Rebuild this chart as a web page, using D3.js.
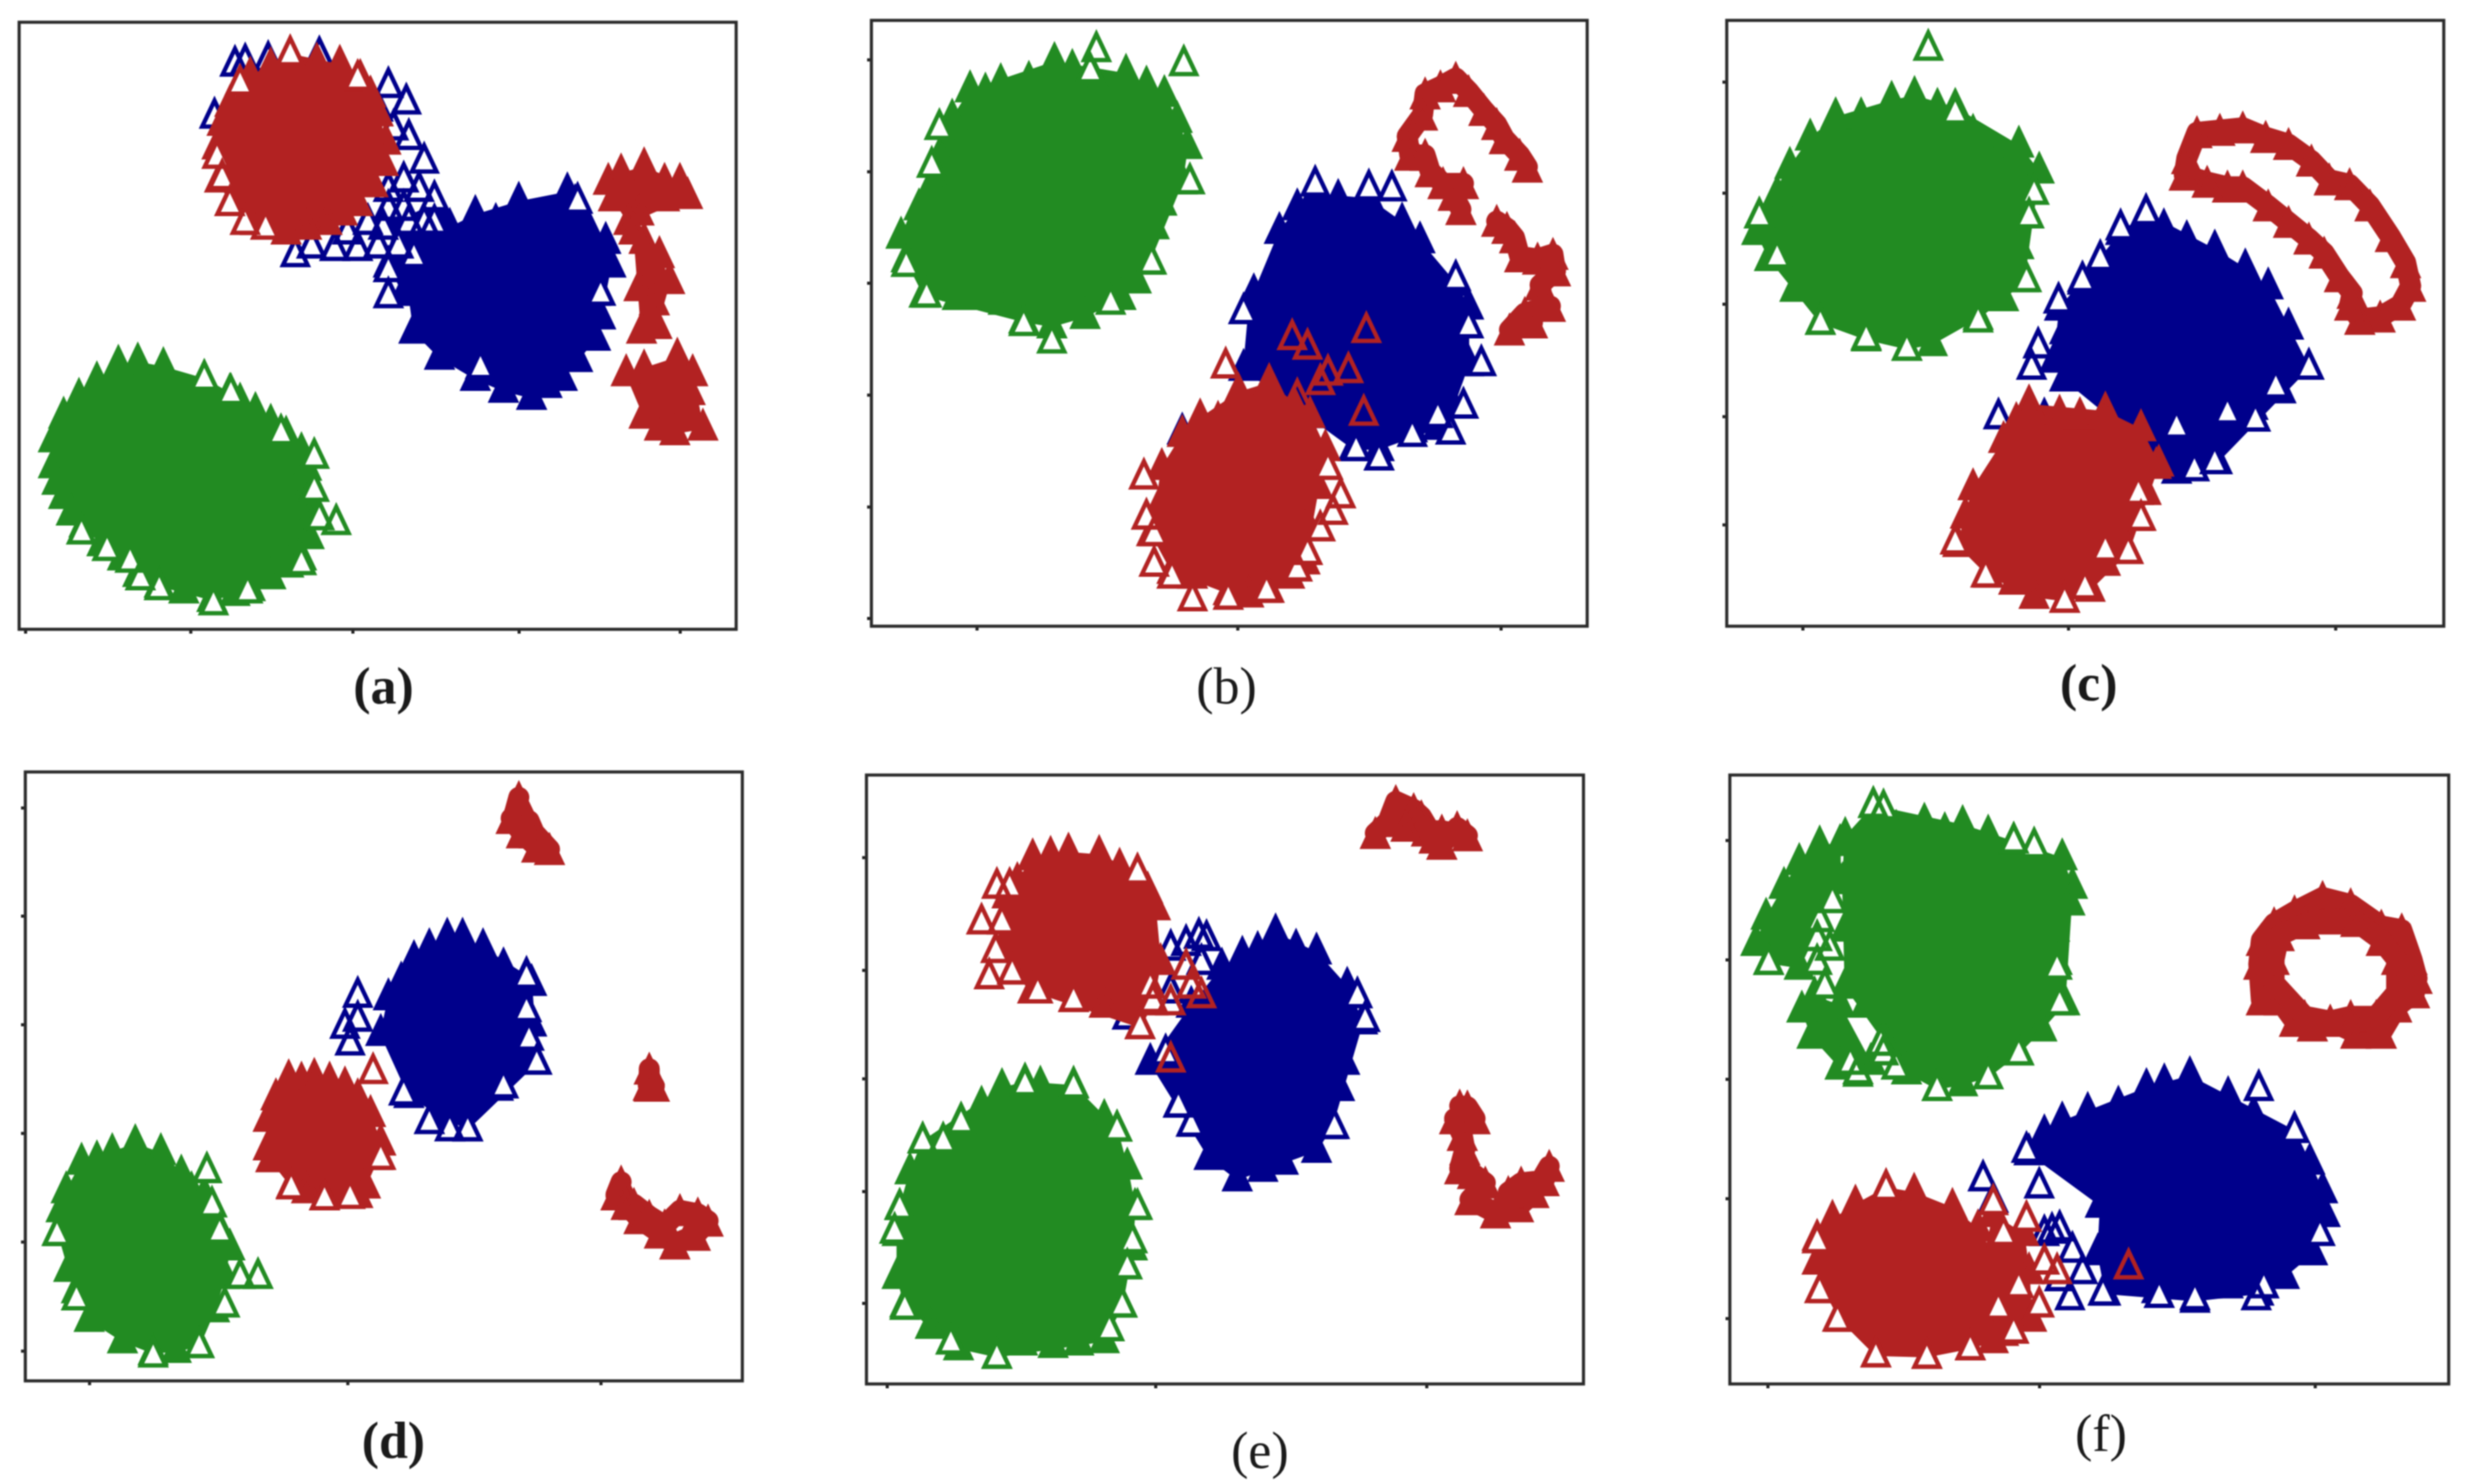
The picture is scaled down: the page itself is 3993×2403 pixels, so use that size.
<!DOCTYPE html>
<html>
<head>
<meta charset="utf-8">
<script src="https://cdn.jsdelivr.net/npm/d3@7"></script>
<style>
  html, body { margin: 0; background: #fff; }
  #chart svg { display: block; filter: blur(1.3px); }
  .lbl { font-family: "Liberation Serif", serif; font-size: 84px; text-anchor: middle; fill: #1a1a1a; }
</style>
</head>
<body>
<div id="chart"></div>
<script>
// values, in each panel's own axis units
// "Body" = dense part of a cluster, "Loose" = hollow triangles on the rim,
// "Strand" = tightly packed chains, "Over" = hollow red triangles sitting on the blue cluster

// panel (a)
const aTicksX = [50, 373, 690, 1015, 1330];
const aTicksY = [];
const aGreenBody = [[105,985],[112,1020],[125,1050],[140,1085],[165,1110],[200,1150],[240,1180],[270,1215],[312,1238],[360,1250],[415,1268],[460,1255],[490,1245],[530,1220],[565,1195],[590,1180],[605,1135],[610,1090],[600,1040],[600,990],[590,955],[560,920],[530,895],[500,870],[470,850],[450,830],[400,800],[365,835],[320,775],[270,765],[232,770],[190,805],[155,840],[125,880],[105,930]];
const aGreenLoose = [[615,965],[658,1105],[160,1125],[210,1160],[275,1222],[312,1243],[418,1275],[485,1250],[590,1190],[625,1095],[400,800],[452,830],[550,915],[615,1035],[255,1185]];
const aBlueBody = [[930,453],[970,470],[1015,425],[1060,470],[1110,405],[1125,430],[1150,480],[1185,510],[1195,560],[1165,620],[1175,670],[1165,715],[1130,760],[1100,800],[1070,815],[1040,840],[985,825],[930,800],[860,755],[810,700],[800,620],[830,560],[850,520],[880,480]];
const aBlueArm = [[770,470],[850,430],[870,470],[840,600],[790,620],[760,560]];
const aBlueLoose = [[1130,425],[1175,620],[940,775],[760,625],[760,570],[760,180],[795,215],[800,290],[830,340],[790,380],[850,420],[750,480],[700,525],[655,525],[578,538],[610,520],[760,440],[800,470],[810,540],[460,135],[480,130],[525,125],[625,115],[420,245],[740,230],[770,270],[720,470],[680,490],[760,400],[820,400],[830,470],[780,520],[740,520],[790,440],[850,470]];
const aRedBody = [[568,113],[620,130],[665,135],[705,165],[725,200],[740,240],[755,300],[750,345],[730,390],[700,430],[670,450],[640,470],[600,480],[560,490],[500,470],[450,430],[430,380],[425,310],[435,260],[450,220],[490,160],[530,140]];
const aRedLoose = [[568,113],[470,175],[425,330],[435,375],[480,470],[520,480],[450,430],[700,165]];
const aRedTop = [[1190,385],[1215,365],[1260,352],[1300,385],[1330,385],[1345,415],[1300,420],[1250,450],[1200,420],[1230,470]];
const aRedMid = [[1260,510],[1290,540],[1310,595],[1250,610],[1280,640],[1255,700],[1285,690],[1240,490]];
const aRedLow = [[1225,790],[1260,780],[1325,755],[1355,790],[1350,830],[1375,905],[1320,915],[1260,880],[1290,905]];

// panel (b)
const bTicksX = [278, 788, 1303];
const bTicksY = [125, 362, 598, 835, 1072, 1308];
const bGreenBody = [[265,190],[295,195],[325,175],[380,170],[430,130],[465,145],[510,170],[570,155],[610,180],[645,200],[670,255],[690,310],[680,385],[640,430],[625,480],[615,555],[590,595],[560,630],[490,670],[425,690],[370,680],[330,640],[280,630],[240,630],[175,625],[140,550],[130,500],[165,440],[195,380],[210,320],[230,250]];
const bGreenLoose = [[512,105],[683,135],[205,270],[425,722],[140,560],[180,625],[370,685],[540,640],[620,555],[190,350],[500,150],[695,385]];
const bBlueBody = [[985,420],[1045,420],[1110,470],[1145,510],[1215,600],[1240,650],[1240,770],[1210,860],[1180,905],[1130,910],[1065,950],[1015,950],[960,880],[800,780],[810,660],[820,620],[870,490],[905,440],[940,410]];
const bBlueLoose = [[940,390],[1045,398],[1265,770],[1205,915],[1230,860],[1065,970],[1130,920],[1180,880],[800,660],[1215,590],[1020,950],[1240,690],[1090,400],[680,915]];
const bRedBody = [[715,885],[750,890],[790,830],[850,810],[900,860],[930,880],[960,950],[945,1030],[920,1100],[920,1190],[890,1220],[850,1250],[810,1260],[770,1255],[700,1220],[660,1210],[620,1130],[640,1060],[640,990],[680,920]];
const bRedLoose = [[605,1010],[610,1095],[625,1130],[625,1195],[660,1220],[700,1268],[770,1265],[845,1250],[905,1205],[925,1170],[950,1120],[975,1085],[990,1050],[965,990],[765,775]];
const bRedOver = [[895,715],[925,735],[965,790],[1005,785],[1040,700],[1035,875],[905,840],[950,810]];
const bRedStrandA = [[1355,360],[1340,335],[1310,300],[1295,270],[1270,240],[1240,200],[1215,172],[1185,190],[1155,205],[1150,250],[1120,295],[1125,335],[1155,335],[1165,370],[1190,395],[1230,395],[1210,420],[1225,450]];
const bRedStrandB = [[1295,475],[1315,490],[1330,510],[1340,550],[1375,555],[1405,545],[1410,580],[1380,610],[1385,650],[1400,655],[1350,670],[1320,705],[1365,690]];

// panel (c)
const cTicksX = [265, 787, 1312];
const cTicksY = [170, 405, 640, 878, 1107];
const cGreenBody = [[330,245],[380,245],[440,210],[485,200],[530,225],[565,225],[600,280],[640,330],[690,305],[730,360],[700,440],[690,520],[700,590],[660,630],[610,670],[520,725],[470,735],[390,715],[300,680],[250,610],[200,545],[175,490],[180,455],[215,410],[240,350],[280,290]];
const cGreenLoose = [[512,100],[180,455],[710,455],[705,590],[610,675],[470,735],[390,712],[300,680],[565,235],[215,540],[720,405]];
const cBlueBody = [[940,448],[975,480],[1020,505],[1075,525],[1135,565],[1180,605],[1220,690],[1260,775],[1205,825],[1150,860],[1080,975],[1000,995],[920,900],[780,800],[760,760],[780,700],[770,650],[815,595],[850,550],[890,490]];
const cBlueLoose = [[940,448],[890,480],[850,545],[815,590],[768,635],[728,730],[715,775],[650,880],[1155,885],[1260,775],[1195,815],[1075,975],[1035,990],[1000,900],[710,860],[740,880],[820,910],[1100,870]];
const cRedBody = [[710,853],[770,875],[810,880],[860,868],[930,905],[965,980],[940,1040],[925,1095],[905,1165],[860,1190],[830,1245],[780,1268],[720,1260],[680,1230],[630,1215],[570,1150],[585,1090],[600,1030],[660,930],[685,890]];
const cRedLoose = [[930,1095],[905,1165],[860,1160],[925,1040],[625,1215],[565,1145],[780,1268],[820,1240]];
const cRedOver = [[710,853],[690,920],[960,985],[860,868],[770,875],[810,880]];
const cRedStrand = [[1020,340],[1040,285],[1085,280],[1130,275],[1175,295],[1220,310],[1265,345],[1300,385],[1340,395],[1380,440],[1420,505],[1450,560],[1460,610],[1440,650],[1400,675],[1360,680],[1340,650],[1345,625],[1320,590],[1290,540],[1260,510],[1220,475],[1180,440],[1130,400],[1100,400],[1060,390],[1015,375],[1020,340]];

// panel (d)
const dTicksX = [175, 680, 1175];
const dTicksY = [145, 372, 600, 828, 1056, 1285];
const dGreenBody = [[160,890],[190,885],[220,870],[265,851],[315,870],[355,915],[375,950],[400,960],[425,1020],[450,1070],[440,1130],[420,1200],[390,1275],[345,1285],[300,1290],[240,1265],[175,1220],[150,1160],[135,1115],[115,1040],[120,990],[130,950]];
const dGreenLoose = [[405,908],[505,1130],[470,1130],[440,1190],[150,1175],[390,1275],[300,1295],[112,1040],[415,980],[430,1035]];
const dBlueBody = [[875,418],[905,418],[945,440],[985,480],[1030,498],[1040,515],[1040,600],[1050,680],[975,735],[915,820],[860,790],[800,750],[745,620],[760,545],[785,510],[810,465],[840,440]];
const dBlueLoose = [[700,540],[675,605],[685,640],[1050,680],[1035,630],[840,805],[880,820],[915,820],[790,745],[1030,500],[1030,570],[700,590],[985,730]];
const dRedBody = [[565,715],[590,720],[615,712],[645,720],[675,730],[700,755],[725,790],[745,850],[740,880],[715,940],[700,960],[665,960],[635,965],[600,950],[570,940],[530,885],[525,860],[525,800],[540,755]];
const dRedLoose = [[635,965],[685,962],[570,942],[745,880]];
const dRedOver = [[730,700]];
const dRedStrandA = [[1015,131],[1005,170],[1035,180],[1045,205],[1075,240],[1050,235],[1020,205],[1000,175]];
const dRedStrandB = [[1270,701],[1270,737],[1268,735],[1280,737]];
const dRedStrandC = [[1215,938],[1205,965],[1225,985],[1250,1015],[1290,1045],[1320,1068],[1360,1050],[1385,1020],[1365,1005],[1330,998],[1300,1030],[1270,1010],[1240,985]];

// panel (e)
const eTicksX = [105, 630, 1160];
const eTicksY = [248, 485, 713, 950, 1185];
const eGreenBody = [[330,733],[375,721],[405,728],[470,728],[530,798],[555,820],[575,900],[590,985],[585,1070],[565,1190],[530,1265],[480,1270],[430,1275],[370,1270],[320,1298],[245,1280],[190,1235],[140,1190],[125,1130],[125,1040],[130,985],[150,910],[175,845],[250,803],[290,770]];
const eGreenLoose = [[175,845],[250,805],[215,845],[555,820],[595,985],[585,1055],[575,1110],[565,1190],[540,1240],[320,1298],[230,1268],[140,1195],[120,1035],[130,985],[470,730],[375,725]];
const eBlueBody = [[800,455],[830,445],[865,408],[905,440],[945,448],[1005,520],[1035,595],[1000,680],[990,735],[975,815],[945,865],[880,890],[840,905],[790,925],[735,880],[705,810],[675,770],[620,680],[700,560],[760,480]];
const eBlueLoose = [[690,430],[715,415],[730,420],[720,470],[1040,590],[1025,540],[980,815],[675,770],[700,810],[650,660],[660,530],[545,560],[575,585],[660,440]];
const eRedBody = [[390,250],[425,245],[460,238],[520,243],[560,270],[595,280],[615,320],[630,355],[640,470],[625,555],[600,605],[530,560],[470,548],[390,530],[350,490],[330,440],[340,330],[360,300]];
const eRedLoose = [[320,310],[290,385],[330,385],[318,445],[305,500],[350,490],[595,280],[625,550],[600,605],[620,520],[400,530],[470,548],[345,310]];
const eRedOver = [[690,480],[700,520],[660,555],[720,540],[660,675]];
const eRedStrandA = [[1060,205],[1085,180],[1100,138],[1135,155],[1150,170],[1175,215],[1190,228],[1220,193],[1240,210],[1190,200],[1160,200],[1120,190]];
const eRedStrandB = [[1225,778],[1240,780],[1255,805],[1215,805],[1230,840],[1235,870],[1225,910],[1250,920],[1275,940],[1245,975],[1295,1003],[1340,990],[1370,960],[1400,905],[1390,935],[1345,940],[1320,960]];

// panel (f)
const fTicksX = [198, 730, 1270];
const fTicksY = [212, 463, 714, 965, 1217];
const fGreenMain = [[350,205],[405,140],[450,190],[505,175],[545,195],[580,180],[630,200],[680,215],[720,240],[775,250],[795,310],[790,345],[760,400],[765,470],[780,555],[735,610],[690,660],[630,710],[580,725],[530,735],[470,700],[430,640],[390,560],[350,520],[350,400],[345,300]];
const fGreenLeft = [[300,223],[340,220],[340,300],[270,340],[260,480],[200,470],[175,430],[195,375],[230,310],[260,260]];
const fGreenLow = [[290,540],[340,560],[330,620],[400,680],[375,705],[340,690],[285,625],[265,570]];
const fGreenLoose = [[405,140],[425,145],[300,380],[295,420],[295,470],[310,520],[325,340],[320,440],[360,680],[375,700],[420,640],[425,660],[450,690],[530,735],[630,710],[690,660],[765,480],[770,555],[680,215],[720,225],[200,470]];
const fBlueUpper = [[710,870],[740,830],[775,803],[825,783],[885,770],[940,733],[975,723],[1025,708],[1100,750],[1150,790],[1230,823],[1260,890],[1285,950],[1290,1000],[1265,1080],[850,980]];
const fBlueLower = [[850,980],[1265,1080],[1210,1130],[1160,1165],[1100,1150],[1035,1180],[960,1160],[860,1165],[845,1080]];
const fBlueLoose = [[1160,735],[1230,823],[705,865],[730,940],[755,1035],[770,1030],[795,1075],[815,1120],[770,1135],[790,1175],[855,1165],[965,1170],[1035,1175],[1155,1175],[1170,1150],[1280,1040],[620,925],[640,970],[740,1040]];
const fRedBody = [[370,978],[430,943],[485,953],[560,985],[610,1030],[650,1100],[680,1160],[680,1245],[640,1265],[595,1280],[510,1298],[410,1295],[340,1220],[310,1160],[295,1100],[295,1050],[325,1010]];
const fRedSide = [[640,1000],[700,1040],[710,1120],[715,1220],[660,1250],[620,1100]];
const fRedLoose = [[640,975],[705,1010],[660,1040],[740,1100],[730,1190],[680,1245],[595,1280],[410,1295],[510,1298],[335,1220],[300,1160],[295,1055],[430,945],[690,1150],[650,1195],[765,1120]];
const fRedOver = [[905,1110]];
const fRedStrandA = [[1285,340],[1340,355],[1400,400],[1440,408],[1460,470],[1470,510],[1465,540],[1430,570],[1400,625],[1350,625],[1300,600],[1265,610],[1230,600],[1200,555],[1165,555],[1160,480],[1165,430],[1190,395],[1230,370],[1285,340]];
const fRedStrandB = [[1250,395],[1300,385],[1350,390],[1400,430],[1430,470],[1430,540],[1390,590],[1340,590],[1300,600],[1250,590],[1190,520],[1190,470],[1200,420],[1250,395]];

var green = "#228b22", blue = "#00008b", red = "#b22222";

var panels = [
  { label: "(a)", weight: "bold", box: [31, 36, 1192, 1019], lx: 621, ly: 1113, domX: [38, 1440], domY: [45, 1330], ticksX: aTicksX, ticksY: aTicksY,
    layers: [ { color: green, hulls: [aGreenBody], loose: aGreenLoose, strands: [], over: [] },
              { color: blue, hulls: [aBlueBody, aBlueArm], loose: aBlueLoose, strands: [], over: [] },
              { color: red, hulls: [aRedBody, aRedTop, aRedMid, aRedLow], loose: aRedLoose, strands: [], over: [] } ] },
  { label: "(b)", weight: "normal", box: [1411, 33, 2570, 1014], lx: 1986, ly: 1113, domX: [72, 1472], domY: [42, 1325], ticksX: bTicksX, ticksY: bTicksY,
    layers: [ { color: green, hulls: [bGreenBody], loose: bGreenLoose, strands: [], over: [] },
              { color: blue, hulls: [bBlueBody], loose: bBlueLoose, strands: [], over: [] },
              { color: red, hulls: [bRedBody], loose: bRedLoose, strands: [bRedStrandA, bRedStrandB], over: bRedOver } ] },
  { label: "(c)", weight: "bold", box: [2796, 33, 3957, 1014], lx: 3382, ly: 1108, domX: [116, 1525], domY: [40, 1322], ticksX: cTicksX, ticksY: cTicksY,
    layers: [ { color: green, hulls: [cGreenBody], loose: cGreenLoose, strands: [], over: [] },
              { color: blue, hulls: [cBlueBody], loose: cBlueLoose, strands: [], over: [] },
              { color: red, hulls: [cRedBody], loose: cRedLoose, strands: [cRedStrand], over: cRedOver } ] },
  { label: "(d)", weight: "bold", box: [41, 1250, 1202, 2236], lx: 637, ly: 2335, domX: [50, 1452], domY: [70, 1348], ticksX: dTicksX, ticksY: dTicksY,
    layers: [ { color: green, hulls: [dGreenBody], loose: dGreenLoose, strands: [], over: [] },
              { color: blue, hulls: [dBlueBody], loose: dBlueLoose, strands: [], over: [] },
              { color: red, hulls: [dRedBody], loose: dRedLoose, strands: [dRedStrandA, dRedStrandB, dRedStrandC], over: dRedOver } ] },
  { label: "(e)", weight: "normal", box: [1403, 1255, 2564, 2241], lx: 2040, ly: 2351, domX: [65, 1467], domY: [75, 1355], ticksX: eTicksX, ticksY: eTicksY,
    layers: [ { color: green, hulls: [eGreenBody], loose: eGreenLoose, strands: [], over: [] },
              { color: blue, hulls: [eBlueBody], loose: eBlueLoose, strands: [], over: [] },
              { color: red, hulls: [eRedBody], loose: eRedLoose, strands: [eRedStrandA, eRedStrandB], over: eRedOver } ] },
  { label: "(f)", weight: "normal", box: [2801, 1255, 3965, 2241], lx: 3402, ly: 2323, domX: [124, 1532], domY: [75, 1355], ticksX: fTicksX, ticksY: fTicksY,
    layers: [ { color: green, hulls: [fGreenMain, fGreenLeft, fGreenLow], loose: fGreenLoose, strands: [], over: [] },
              { color: blue, hulls: [fBlueUpper, fBlueLower], loose: fBlueLoose, strands: [], over: [] },
              { color: red, hulls: [fRedBody, fRedSide], loose: fRedLoose, strands: [fRedStrandA, fRedStrandB], over: fRedOver } ] }
];

// append the svg object to the body of the page
var svg = d3.select("#chart")
  .append("svg")
    .attr("width", 3993)
    .attr("height", 2403);

svg.append("rect").attr("width", 3993).attr("height", 2403).attr("fill", "#fff");

// tall triangle marker, the plain d3 one is too squat for this plot
var tri = {
  draw: function(ctx) {
    ctx.moveTo(0, -26);
    ctx.lineTo(20, 16);
    ctx.lineTo(-20, 16);
    ctx.closePath();
  }
};
var marker = d3.symbol().type(tri)();

panels.forEach(function(p) {
  var x = d3.scaleLinear().domain(p.domX).range([p.box[0], p.box[2]]);
  var y = d3.scaleLinear().domain(p.domY).range([p.box[1], p.box[3]]);
  var g = svg.append("g");

  function triangles(layer, pts, fill, stroke) {
    layer.selectAll(null)
      .data(pts)
      .enter()
      .append("path")
        .attr("d", marker)
        .attr("transform", function(d) { return "translate(" + x(d[0]) + "," + y(d[1]) + ")"; })
        .attr("fill", fill)
        .attr("stroke", stroke)
        .attr("stroke-width", 7);
  }

  p.layers.forEach(function(l) {
    var layer = g.append("g");
    l.hulls.forEach(function(pts) {
      // too many overlapping points in the middle of a cluster, it reads as solid colour
      var hull = d3.polygonHull(pts);
      layer.append("path")
        .attr("d", "M" + hull.map(function(d) { return x(d[0]) + "," + y(d[1]); }).join("L") + "Z")
        .attr("fill", l.color)
        .attr("stroke", l.color)
        .attr("stroke-width", 2);
      triangles(layer, pts, l.color, l.color);
    });
    l.strands.forEach(function(pts) {
      // chains of points overlap into a solid band
      var line = d3.line().x(function(d) { return x(d[0]); }).y(function(d) { return y(d[1]) - 6; });
      layer.append("path")
        .attr("d", line(pts))
        .attr("fill", "none")
        .attr("stroke", l.color)
        .attr("stroke-width", 34)
        .attr("stroke-linejoin", "round")
        .attr("stroke-linecap", "round");
      triangles(layer, pts, l.color, l.color);
    });
    // holes first, then all the outlines so they don't hide each other
    triangles(layer, l.loose, "#fff", "none");
    triangles(layer, l.loose, "none", l.color);
    triangles(layer, l.over, "none", l.color);
  });

  // X axis
  g.append("g")
    .attr("transform", "translate(0," + p.box[3] + ")")
    .call(d3.axisBottom(x).tickValues(p.ticksX).tickFormat("").tickSize(7))
    .call(function(a) { a.select(".domain").remove(); })
    .selectAll("line").attr("stroke", "#222").attr("stroke-width", 5);

  // Y axis
  g.append("g")
    .attr("transform", "translate(" + p.box[0] + ",0)")
    .call(d3.axisLeft(y).tickValues(p.ticksY).tickFormat("").tickSize(7))
    .call(function(a) { a.select(".domain").remove(); })
    .selectAll("line").attr("stroke", "#222").attr("stroke-width", 5);

  g.append("rect")
    .attr("x", p.box[0])
    .attr("y", p.box[1])
    .attr("width", p.box[2] - p.box[0])
    .attr("height", p.box[3] - p.box[1])
    .attr("fill", "none")
    .attr("stroke", "#2a2a2a")
    .attr("stroke-width", 5);

  g.append("text")
    .attr("class", "lbl")
    .attr("x", p.lx)
    .attr("y", p.ly + 26)
    .attr("font-weight", p.weight)
    .text(p.label);
});
</script>
</body>
</html>
